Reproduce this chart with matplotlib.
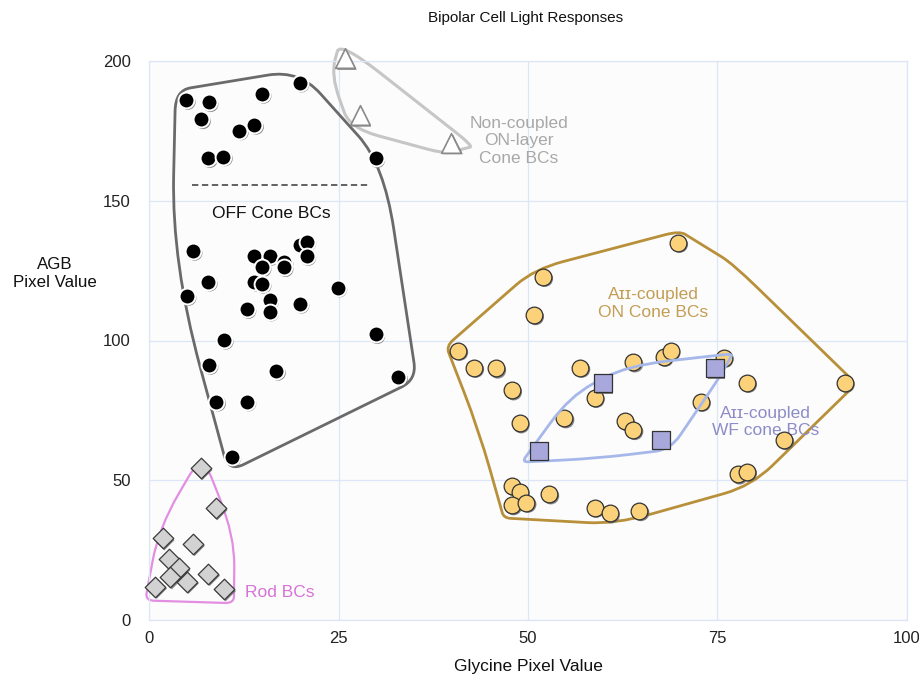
import numpy as np
import matplotlib
matplotlib.use("Agg")
import matplotlib.pyplot as plt
from matplotlib.path import Path
from matplotlib.patches import PathPatch
from matplotlib.transforms import offset_copy

plt.rcParams['font.family'] = ['Liberation Sans', 'DejaVu Sans']

# OFF cone bipolar cells (black circles)
off_x = [4.9, 7.9, 6.9, 7.8, 9.8, 11.9, 13.9, 14.9, 19.9, 29.9,
         5.8, 7.8, 5.0, 13.9, 15.9, 14.9, 17.8, 17.8, 19.9, 20.8,
         20.8, 13.9, 14.9, 15.9, 15.9, 12.9, 19.9, 24.9, 29.9, 9.9,
         7.9, 16.8, 32.9, 8.9, 12.9, 10.9]
off_y = [186.0, 185.2, 179.1, 165.2, 165.8, 175.1, 177.1, 188.2, 192.2, 165.2,
         132.0, 121.0, 115.9, 130.2, 130.2, 126.2, 128.2, 126.2, 134.2, 135.4,
         130.2, 121.0, 120.2, 114.5, 110.3, 111.2, 113.1, 118.9, 102.2, 100.2,
         91.2, 89.1, 87.0, 78.1, 78.1, 58.4]

# non-coupled ON-layer cone BCs (triangles)
nc_x = [25.9, 27.8, 39.9]
nc_y = [201.0, 180.7, 170.8]

# AII-coupled ON cone BCs (yellow circles)
on_x = [69.8, 52.0, 50.8, 40.8, 42.9, 45.8, 56.9, 63.9, 67.9, 68.8,
        75.8, 47.9, 58.8, 54.8, 62.8, 63.9, 72.8, 78.9, 91.8, 48.9,
        83.8, 77.7, 78.9, 47.9, 48.9, 47.9, 49.8, 52.8, 58.8, 60.8, 64.7]
on_y = [135.0, 122.8, 109.1, 96.4, 90.3, 90.0, 90.3, 92.2, 94.2, 96.2,
        93.8, 82.2, 79.5, 72.2, 71.2, 68.0, 78.1, 84.9, 84.9, 70.4,
        64.4, 52.1, 53.1, 47.9, 45.9, 41.1, 42.0, 45.0, 40.2, 38.2, 39.0]

# AII-coupled WF cone BCs (squares)
wf_x = [51.4, 59.9, 67.5, 74.7]
wf_y = [60.5, 84.7, 64.4, 90.0]

# rod BCs (diamonds)
rod_x = [6.8, 8.8, 1.8, 5.8, 2.7, 3.9, 2.8, 5.0, 7.8, 9.9, 0.8]
rod_y = [54.3, 40.0, 29.2, 27.2, 21.7, 18.5, 15.3, 13.7, 16.5, 11.0, 11.9]

# hand drawn group outlines (vertex x, vertex y, corner rounding)
off_outline = [(3.5, 189.5, 0.12), (19.8, 196.8, 0.25), (31.0, 163.0, 0.3),
               (35.3, 86.0, 0.08), (10.5, 53.0, 0.08), (3.0, 128.0, 0.5)]
nc_outline = [(25.2, 207.0, 0.3), (42.8, 169.5, 0.12), (39.0, 166.8, 0.2),
              (26.5, 176.0, 0.3), (24.0, 195.0, 0.45)]
on_outline = [(39.2, 98.0, 0.08), (50.8, 125.5, 0.2), (70.0, 139.2, 0.1),
              (77.0, 127.5, 0.2), (93.3, 84.5, 0.06), (79.5, 48.0, 0.2),
              (61.5, 34.3, 0.25), (46.8, 36.5, 0.06), (43.5, 68.0, 0.45)]
wf_outline = [(49.2, 56.5, 0.08), (55.5, 80.0, 0.4), (63.0, 91.0, 0.4),
              (77.0, 95.3, 0.1), (75.3, 87.0, 0.2), (68.8, 61.0, 0.2),
              (59.0, 57.8, 0.45)]
rod_outline = [(7.0, 59.5, 0.3), (11.3, 30.0, 0.45), (11.2, 6.0, 0.1),
               (-0.5, 7.0, 0.1), (1.3, 33.0, 0.45)]


def rounded(outline):
    pts = np.array([(p[0], p[1]) for p in outline])
    rs = [p[2] for p in outline]
    n = len(pts)
    verts, codes = [], []
    for i in range(n):
        v = pts[i]
        a = v + rs[i] * (pts[i - 1] - v)
        b = v + rs[i] * (pts[(i + 1) % n] - v)
        verts.append(a)
        codes.append(Path.MOVETO if i == 0 else Path.LINETO)
        verts += [v, b]
        codes += [Path.CURVE3, Path.CURVE3]
    verts.append(verts[0])
    codes.append(Path.LINETO)
    return Path(verts, codes)


fig = plt.figure(figsize=(9.2, 6.77), dpi=100)
ax = fig.add_axes([149 / 920, 1 - 620 / 677, 758 / 920, 559 / 677])
ax.set_xlim(0, 100)
ax.set_ylim(0, 200)
ax.set_facecolor('#fcfcfc')
ax.set_xticks([0, 25, 50, 75, 100])
ax.set_yticks([0, 50, 100, 150, 200])
ax.grid(True, color='#dde6f6', lw=0.9)
ax.set_axisbelow(True)
for s in ax.spines.values():
    s.set_color('#dde6f6')
    s.set_linewidth(0.9)
ax.tick_params(length=0, labelsize=12, colors='#222222')
ax.tick_params(axis='x', pad=8)
ax.tick_params(axis='y', pad=13)

# outlines
styles = [(off_outline, '#6a6a6a', 2.0), (nc_outline, '#c6c6c6', 2.2),
          (on_outline, '#b8903a', 2.0), (rod_outline, '#e28ee2', 1.6)]
for outline, col, lw in styles:
    ax.add_patch(PathPatch(rounded(outline), fill=False, ec=col, lw=lw,
                           clip_on=False, zorder=2))

ax.plot([5.7, 29.2], [155.5, 155.5], color='#555555', lw=1.3,
        dashes=(3.5, 2), zorder=2)

shadow = offset_copy(ax.transData, fig=fig, x=1.6, y=-1.8, units='dots')


def draw(x, y, marker, s, fc, ec, lw, z):
    ax.scatter(x, y, marker=marker, s=s, c='#666666', edgecolors='none',
               transform=shadow, alpha=0.8, zorder=z, clip_on=False)
    ax.scatter(x, y, marker=marker, s=s, c=fc, edgecolors=ec,
               linewidths=lw, zorder=z + 0.1, clip_on=False)


draw(rod_x, rod_y, 'D', 110, '#d2d2d2', '#3a3a3a', 0.9, 3)
draw(off_x, off_y, 'o', 130, 'black', 'white', 1.4, 3)
draw(nc_x, nc_y, '^', 200, 'white', '#8a8a8a', 1.2, 3)
draw(on_x, on_y, 'o', 145, '#fbd27a', '#333333', 0.9, 3)
ax.add_patch(PathPatch(rounded(wf_outline), fill=False, ec='#a6b8ea', lw=2.0,
                       clip_on=False, zorder=3.5))
draw(wf_x, wf_y, 's', 155, '#a8a8dc', '#333333', 0.9, 4)

# labels
ax.text(16.2, 145.6, 'OFF Cone BCs', fontsize=12.5, ha='center',
        va='center', color='#111111')
ax.text(48.8, 171.5, 'Non-coupled\nON-layer\nCone BCs', fontsize=12.5,
        ha='center', va='center', color='#a8a8a8', linespacing=1.2)
ax.text(66.5, 113.3, 'A\u026a\u026a-coupled\nON Cone BCs', fontsize=12.5,
        ha='center', va='center', color='#c49d55', linespacing=1.2)
ax.text(81.3, 70.8, 'A\u026a\u026a-coupled\nWF cone BCs', fontsize=12.5,
        ha='center', va='center', color='#8c8cc8', linespacing=1.2)
ax.text(12.7, 9.8, 'Rod BCs', fontsize=12.5, ha='left', va='center',
        color='#d673d6')

ax.text(-0.124, 124.0 / 200, 'AGB\nPixel Value', transform=ax.transAxes,
        fontsize=12.2, ha='center', va='center', color='#111111',
        linespacing=1.2)
ax.text(0.5, -0.084, 'Glycine Pixel Value', transform=ax.transAxes,
        fontsize=12.5, ha='center', va='center', color='#111111')
fig.text(526 / 920, 1 - 18 / 677, 'Bipolar Cell Light Responses',
         fontsize=11, ha='center', va='center', color='#111111')

fig.savefig('out.png', dpi=100)
